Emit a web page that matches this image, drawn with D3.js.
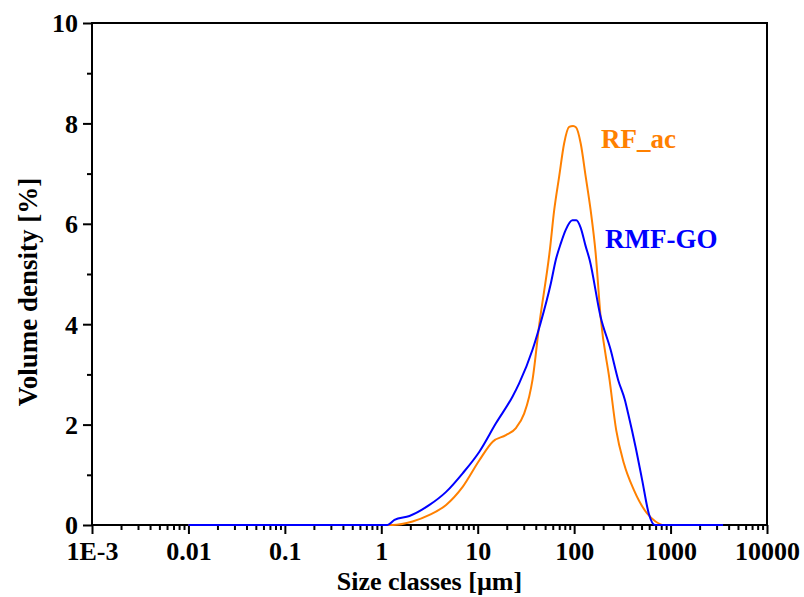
<!DOCTYPE html>
<html><head><meta charset="utf-8">
<script src="https://cdn.jsdelivr.net/npm/d3@7/dist/d3.min.js"></script>
<style>body{margin:0;background:#fff}svg{display:block}text{font-family:"Liberation Serif","Times New Roman",serif;font-weight:bold}</style>
</head><body><svg id="c" width="804" height="597"></svg>
<script>
const xTickValues = [0.001, 0.01, 0.1, 1, 10, 100, 1000, 10000];
const xTickLabels = ["1E-3", "0.01", "0.1", "1", "10", "100", "1000", "10000"];
const yTickValues = [0, 2, 4, 6, 8, 10];
const seriesNames = ["RF_ac", "RMF-GO"];
const rfSize = [0.01, 1.31, 2.11, 3.16, 4.70, 6.98, 10.4, 14.3, 19.6, 24.9, 30.3, 34.2, 37.0, 43.4, 56.0, 62.1, 69.9, 78.7, 88.7, 97.5, 104.7, 117, 131.8, 148.3, 167, 188, 233, 273, 328, 416, 571, 698, 851, 3500];
const rfValue = [0, 0, 0.07, 0.2, 0.4, 0.76, 1.29, 1.66, 1.79, 1.93, 2.22, 2.56, 2.89, 3.98, 5.48, 6.27, 6.94, 7.6, 7.93, 7.95, 7.92, 7.6, 6.94, 6.27, 5.42, 4.15, 2.89, 1.89, 1.23, 0.70, 0.23, 0.07, 0, 0];
const goSize = [0.01, 1.16, 1.37, 1.96, 3.16, 4.70, 6.98, 10.4, 15.5, 23.0, 26.9, 37.0, 44.2, 57.3, 64.5, 72.7, 81.8, 95.8, 105.4, 117, 131.8, 144.9, 188, 239, 286, 336, 363, 433, 507, 594, 685, 3500];
const goValue = [0, 0, 0.1, 0.18, 0.4, 0.66, 1.03, 1.46, 2.03, 2.56, 2.82, 3.49, 3.98, 4.81, 5.28, 5.61, 5.88, 6.07, 6.07, 5.92, 5.55, 5.28, 4.15, 3.49, 2.89, 2.49, 2.22, 1.56, 0.9, 0.23, 0, 0];
const colors = ["#FF8000", "#0000FF"];

const svg = d3.select("#c");
const L = 92, R = 767, T = 23, B = 525;
const x = d3.scaleLog().domain([0.001, 10000]).range([L, R]);
const y = d3.scaleLinear().domain([0, 10]).range([B, T]);

const minorX = [];
for (let e = -3; e < 4; e++) for (let m = 2; m <= 9; m++) minorX.push(m * Math.pow(10, e));
svg.append("g").attr("transform", `translate(0,${B})`)
  .call(d3.axisBottom(x).tickValues(minorX).tickSize(5).tickFormat(""))
  .call(g => g.select(".domain").remove())
  .selectAll("line").attr("stroke", "#000").attr("stroke-width", 2);
svg.append("g").attr("transform", `translate(${L},0)`)
  .call(d3.axisLeft(y).tickValues([1, 3, 5, 7, 9]).tickSize(5).tickFormat(""))
  .call(g => g.select(".domain").remove())
  .selectAll("line").attr("stroke", "#000").attr("stroke-width", 2);

const xa = svg.append("g").attr("transform", `translate(0,${B})`)
  .call(d3.axisBottom(x).tickValues(xTickValues).tickSize(9).tickPadding(8).tickSizeOuter(0)
    .tickFormat((d, i) => xTickLabels[i]));
xa.select(".domain").remove();
xa.selectAll("line").attr("stroke", "#000").attr("stroke-width", 2);
xa.selectAll("text").attr("font-size", 26).attr("fill", "#000").attr("font-family", "Liberation Serif").attr("font-weight", "bold");

const ya = svg.append("g").attr("transform", `translate(${L},0)`)
  .call(d3.axisLeft(y).tickValues(yTickValues).tickSize(9).tickPadding(5).tickSizeOuter(0));
ya.select(".domain").remove();
ya.selectAll("line").attr("stroke", "#000").attr("stroke-width", 2);
ya.selectAll("text").attr("font-size", 26).attr("fill", "#000").attr("font-family", "Liberation Serif").attr("font-weight", "bold").attr("dy", "0.34em");

svg.append("rect").attr("x", L).attr("y", T).attr("width", R - L).attr("height", B - T)
  .attr("fill", "none").attr("stroke", "#000").attr("stroke-width", 2);

const line = d3.line().x(d => x(d[0])).y(d => y(d[1])).curve(d3.curveMonotoneX);
const sets = [rfSize.map((s, i) => [s, rfValue[i]]), goSize.map((s, i) => [s, goValue[i]])];
sets.forEach((data, k) => {
  svg.append("path").datum(data).attr("d", line).attr("fill", "none")
    .attr("stroke", colors[k]).attr("stroke-width", 2);
});

svg.append("text").attr("x", 601).attr("y", 148).attr("font-size", 27).attr("fill", colors[0]).text(seriesNames[0]);
svg.append("text").attr("x", 605).attr("y", 248).attr("font-size", 27).attr("fill", colors[1]).text(seriesNames[1]);

svg.append("text").attr("x", (L + R) / 2).attr("y", 590).attr("text-anchor", "middle")
  .attr("font-size", 26).attr("fill", "#000").text("Size classes [µm]");
svg.append("text").attr("transform", `translate(37,${(T + B) / 2 + 18}) rotate(-90)`).attr("text-anchor", "middle")
  .attr("font-size", 27).attr("fill", "#000").text("Volume density [%]");
</script></body></html>
